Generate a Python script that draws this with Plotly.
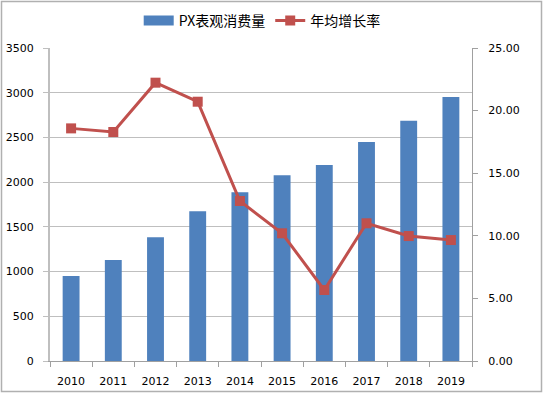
import plotly.graph_objects as go

years = ["2010", "2011", "2012", "2013", "2014", "2015", "2016", "2017", "2018", "2019"]
consumption = [950, 1130, 1383, 1674, 1886, 2077, 2192, 2449, 2687, 2953]
growth = [18.58, 18.29, 22.23, 20.71, 12.78, 10.20, 5.67, 11.00, 9.98, 9.66]
left_ticks = [0, 500, 1000, 1500, 2000, 2500, 3000, 3500]
right_ticks = [0, 5, 10, 15, 20, 25]

W, H = 544, 393
ML, MR, MT, MB = 50, 72, 48, 32
PW, PH = W - ML - MR, H - MT - MB

fig = go.Figure()
fig.add_trace(go.Bar(
    x=years, y=consumption, name="PX表观消费量",
    marker=dict(color="#4f81bd", line=dict(width=0)),
    yaxis="y", showlegend=False,
))
# legend swatch for the bars (wide rectangle as in the reference)
fig.add_trace(go.Scatter(
    x=[None], y=[None], name="PX表观消费量", mode="lines",
    line=dict(color="#4f81bd", width=10), yaxis="y",
))
fig.add_trace(go.Scatter(
    x=years, y=growth, name="年均增长率", mode="lines+markers",
    line=dict(color="#c0504d", width=3),
    marker=dict(symbol="square", size=10, color="#c0504d"),
    yaxis="y2",
))

font = dict(family="DejaVu Sans", size=11, color="#000000")

fig.update_layout(
    width=W, height=H,
    margin=dict(l=ML, r=MR, t=MT, b=MB, pad=0, autoexpand=False),
    paper_bgcolor="white", plot_bgcolor="white",
    bargap=0.6,
    showlegend=True,
    legend=dict(
        orientation="h", x=0.482, xanchor="center", xref="container",
        y=1 - 21 / H, yanchor="middle", yref="container",
        font=dict(family="Noto Sans CJK SC", size=14, color="#000000"),
        itemwidth=30, tracegroupgap=0,
    ),
    xaxis=dict(
        type="category", tickfont=font, showgrid=False,
        showline=True, linecolor="#a0a0a0", linewidth=1,
        ticks="outside", tickson="boundaries", ticklen=5, tickcolor="#a0a0a0",
        ticklabelstandoff=10,
        range=[-0.5, 9.5],
    ),
    yaxis=dict(
        range=[0, 3500], tickvals=left_ticks, tickfont=font,
        showgrid=True, gridcolor="#bfbfbf", gridwidth=1,
        showline=True, linecolor="#bfbfbf", linewidth=2,
        ticks="outside", ticklen=5, tickcolor="#bfbfbf",
        ticklabelstandoff=7,
        zeroline=False,
    ),
    yaxis2=dict(
        range=[0, 25], tickvals=right_ticks, tickformat=".2f", tickfont=font,
        overlaying="y", side="right", showgrid=False,
        showline=True, linecolor="#a0a0a0", linewidth=1,
        ticks="outside", ticklen=5, tickcolor="#a0a0a0",
        ticklabelstandoff=8,
        zeroline=False,
    ),
    shapes=[dict(
        type="rect", xref="paper", yref="paper",
        x0=(1.5 - ML) / PW, x1=(541.5 - ML) / PW,
        y0=(H - MB - 391.5) / PH, y1=(H - MB - 1.5) / PH,
        line=dict(color="#b0b0b0", width=1.5), fillcolor="rgba(0,0,0,0)", layer="below",
    )],
)

fig.write_html("out.html", config={"displayModeBar": False},
               post_script="document.body.style.margin='0';")
